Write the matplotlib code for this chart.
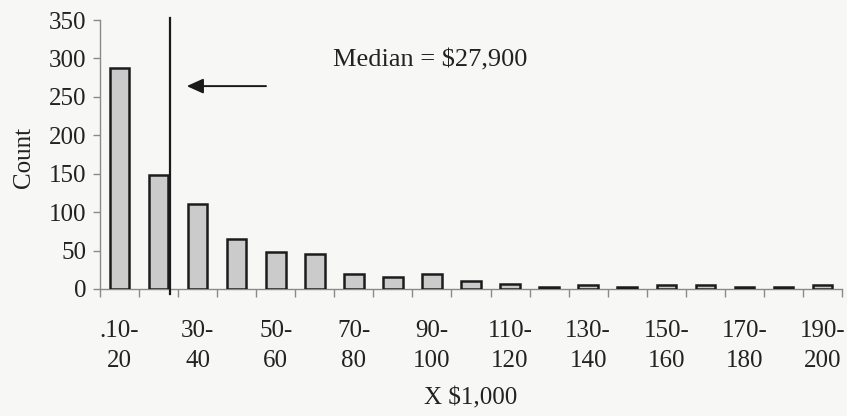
import matplotlib
matplotlib.use("Agg")
import matplotlib.pyplot as plt
import numpy as np

bins_low = [".10", "20", "30", "40", "50", "60", "70", "80", "90", "100",
            "110", "120", "130", "140", "150", "160", "170", "180", "190"]
bins_high = ["20", "30", "40", "50", "60", "70", "80", "90", "100", "110",
             "120", "130", "140", "150", "160", "170", "180", "190", "200"]
counts = [288, 148, 111, 65, 48, 45, 20, 15, 20, 10, 6, 3, 5, 3, 5, 5, 3, 3, 5]
median_k = 27.9  # thousands of dollars
median_label = "Median = $27,900"
y_ticks = [0, 50, 100, 150, 200, 250, 300, 350]

plt.rcParams['font.family'] = ['Liberation Serif', 'DejaVu Serif']

bg = "#f7f7f5"
fig = plt.figure(figsize=(8.47, 4.16), dpi=100, facecolor=bg)
ax = fig.add_axes([0.1181, 0.3053, 0.876, 0.6466], facecolor=bg)

x = np.arange(len(counts))
ax.bar(x, counts, width=0.5, color="#cbcbcb", edgecolor="#1c1c1c", linewidth=1.8, zorder=3)

ax.set_xlim(-0.5, len(counts) - 0.5)
ax.set_ylim(0, 350)
ax.set_yticks(y_ticks)
ax.set_yticklabels([str(v) for v in y_ticks], fontsize=18, color="#222222")

# x ticks at category boundaries, labels under every other bar
ax.set_xticks(np.arange(len(counts) + 1) - 0.5)
ax.set_xticklabels([])
ax.set_xticks(x[::2], minor=True)
ax.set_xticklabels([f"{bins_low[i]}-\n{bins_high[i]}" for i in x[::2]], minor=True,
                   fontsize=18, color="#222222", linespacing=1.5)
ax.tick_params(axis="x", which="major", direction="out", length=6, width=1, color="#8a8a8a")
ax.tick_params(axis="x", which="minor", length=0, pad=22)
ax.tick_params(axis="y", direction="out", length=5, width=1, color="#8a8a8a", pad=5)

for s in ["top", "right"]:
    ax.spines[s].set_visible(False)
for s in ["left", "bottom"]:
    ax.spines[s].set_color("#8a8a8a")
    ax.spines[s].set_linewidth(1)

# median line: position within the 20-30 bin (index 1)
mpos = 1 - 0.5 + (median_k - 20) / 10
ax.plot([mpos, mpos], [-6, 353], color="#1a1a1a", linewidth=1.6, clip_on=False, zorder=4)

ax.annotate("", xy=(1.72, 264), xytext=(3.75, 264),
            arrowprops=dict(arrowstyle="-|>,head_length=1.0,head_width=0.45",
                            color="#1a1a1a", linewidth=1.4, shrinkA=0, shrinkB=0))
ax.text(5.47, 298, median_label, fontsize=19, color="#222222", va="center", ha="left")

ax.set_ylabel("Count", fontsize=18, color="#222222")
ax.yaxis.set_label_coords(-0.088, 0.49)
fig.text(471 / 847, 1 - 398 / 416, "X $1,000", fontsize=18, color="#222222",
         ha="center", va="center")

fig.savefig("out.png", dpi=100, facecolor=bg)
